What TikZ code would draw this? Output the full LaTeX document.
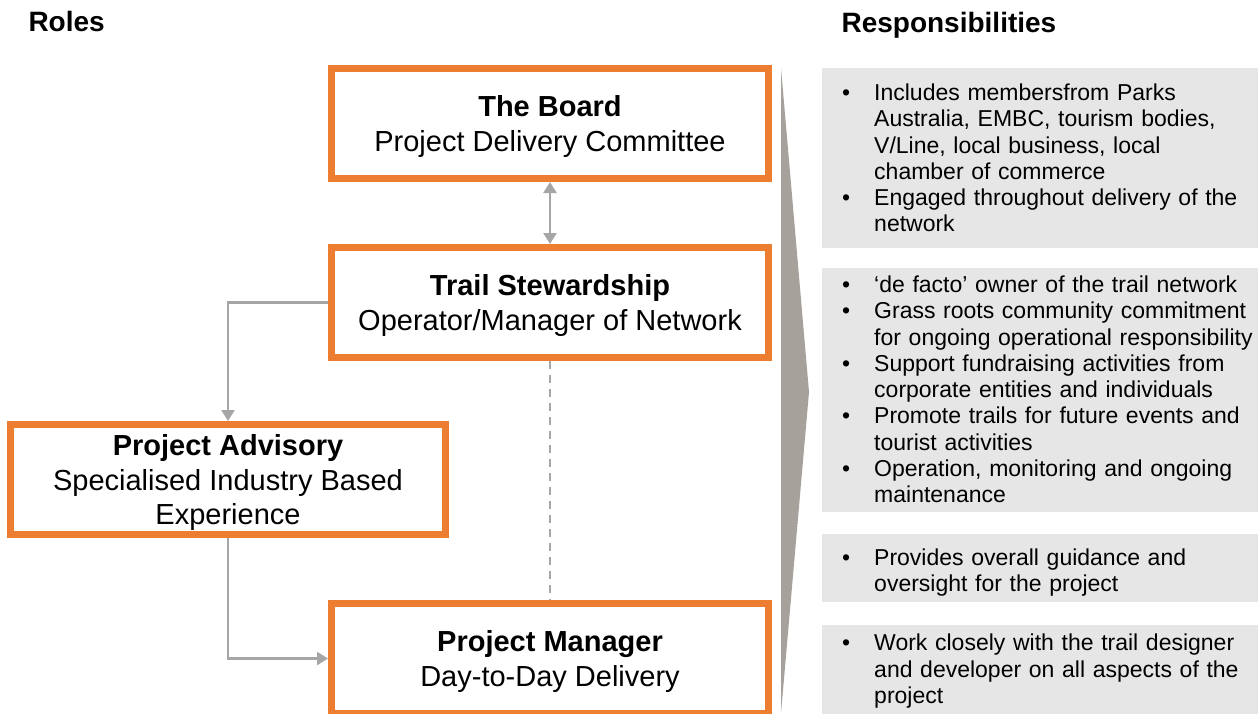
\documentclass[tikz,border=0pt]{standalone}
\usepackage{fontspec}
\setmainfont{Liberation Sans}
\usetikzlibrary{arrows.meta,positioning}

\definecolor{roleorange}{RGB}{237,125,49}
\definecolor{linkgray}{RGB}{166,166,166}
\definecolor{wedgegray}{RGB}{166,161,155}
\definecolor{respgray}{RGB}{230,230,230}

% one bullet item with hanging indent
\newcommand{\bul}[1]{\par\hangindent=52pt\hangafter=1\noindent\hspace*{20pt}\makebox[32pt][l]{\textbullet}#1\par}

\begin{document}
\begin{tikzpicture}[
  x=1pt, y=-1pt,
  role/.style={draw=roleorange, line width=7pt, fill=white, minimum width=437pt,
    minimum height=110pt, align=center, text depth=0pt,
    font=\fontsize{29}{34.5}\selectfont},
  resp/.style={fill=respgray, anchor=north west, text width=436pt, inner xsep=0pt,
    inner ysep=0pt, align=left, execute at begin node={\vspace*{-10pt}},
    font=\fontsize{23}{26.3}\selectfont},
  head/.style={anchor=base west, font=\fontsize{28}{33}\selectfont\bfseries},
  link/.style={draw=linkgray, line width=2.5pt, -{Triangle[width=13pt,length=11pt]}},
]
  \useasboundingbox (0,0) rectangle (1260,713);

  % Headings
  \node[head] (roles) at (25,31) {Roles};
  \node[head] (resps) at (838,32) {Responsibilities};

  % Roles
  \node[role] (board) at (550,123.5) {\textbf{The Board}\\Project Delivery Committee};
  \node[role, below=62pt of board] (stew) {\textbf{Trail Stewardship}\\Operator/Manager of Network};
  \node[role, below=239pt of stew] (pm) {\textbf{Project Manager}\\Day-to-Day Delivery};
  \node[role, minimum width=435pt] (adv) at (228,479.5)
    {\textbf{Project Advisory}\\Specialised Industry Based\\Experience};

  \draw[link, {Triangle[width=13pt,length=11pt]}-{Triangle[width=13pt,length=11pt]}]
    (board) -- (stew);
  \draw[link] (stew.west) -| (adv.north);
  \draw[link] (adv.south) |- (pm.west);
  \draw[linkgray, line width=2pt, dash pattern=on 8pt off 6pt] (stew.south) -- (pm.north);

  % Wedge
  \fill[wedgegray] (781,68) -- (809,392) -- (781,713) -- cycle;

  % Responsibilities
  \node[resp, minimum height=180pt] (r1) at (822,68) {%
    \bul{Includes membersfrom Parks\newline Australia, EMBC, tourism bodies,\newline
      V/Line, local business, local\newline chamber of commerce}
    \bul{Engaged throughout delivery of the\newline network}};
  \node[resp, below=19pt of r1, minimum height=244pt] (r2) {%
    \bul{`de facto' owner of the trail network}
    \bul{Grass roots community commitment\newline for ongoing operational responsibility}
    \bul{Support fundraising activities from\newline corporate entities and individuals}
    \bul{Promote trails for future events and\newline tourist activities}
    \bul{Operation, monitoring and ongoing\newline maintenance}};
  \node[resp, below=22pt of r2, minimum height=68pt] (r3) {%
    \vspace*{10pt}
    \bul{Provides overall guidance and\newline oversight for the project}};
  \node[resp, below=23pt of r3, minimum height=92pt] (r4) {%
    \bul{Work closely with the trail designer\newline and developer on all aspects of the\newline project}};
\end{tikzpicture}
\end{document}
